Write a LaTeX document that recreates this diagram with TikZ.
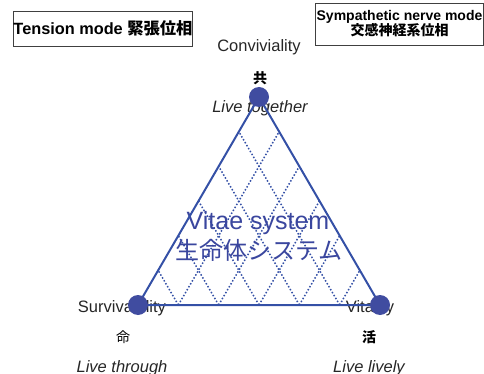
\documentclass[tikz,border=0pt]{standalone}
\usepackage{fontspec}
\setmainfont{Liberation Sans}
\newfontfamily\cjk{Noto Sans CJK JP}
\usepackage{tikz}
\usetikzlibrary{calc}
\definecolor{vblue}{RGB}{52,80,166}
\definecolor{vdot}{RGB}{64,76,160}
\definecolor{vtext}{RGB}{58,70,158}
\tikzstyle{corner}=[circle, fill=vdot, minimum size=20pt, inner sep=0pt]
\tikzstyle{rim}=[draw=vblue, line width=2pt]
\tikzstyle{lattice}=[draw=vblue, line width=1.5pt, dash pattern=on 1.5pt off 1.9pt]
\tikzstyle{lab}=[inner sep=0pt, text=black!85, font=\fontsize{16.5}{18}\selectfont]
\tikzstyle{kanji}=[inner sep=0pt, text=black, font=\fontsize{14}{16}\selectfont\cjk]
\tikzstyle{modebox}=[draw=black!75, line width=0.8pt, text=black, align=center]

\begin{document}
\begin{tikzpicture}[x=1pt,y=-1pt]
		\useasboundingbox (0,0) rectangle (484,374);
		\coordinate(A)at(259,97);
		\coordinate(L)at(138,305);
		\coordinate(R)at(380,305);
		\node[modebox, inner xsep=0pt, minimum height=35pt, font=\fontsize{16.3}{18}\selectfont\bfseries](T)at(103,28.5){Tension mode {\cjk 緊張位相}};
		\node[modebox, inner xsep=1pt, minimum width=167pt, minimum height=42pt, font=\fontsize{14}{16}\selectfont\bfseries](S)at(399.5,24){Sympathetic nerve mode\\[-1pt]{\cjk 交感神経系位相}};
		\node[lab, anchor=base](cv)at(259,52){Conviviality};
		\node[kanji, font=\fontsize{14}{16}\selectfont\cjk\bfseries](gong)at(260,78.5){共};
		\node[lab, anchor=base, font=\fontsize{16.5}{18}\selectfont\itshape](lt)at(260,113){Live together};
		\node[lab, anchor=base](sv)at(122,312){Survivability};
		\node[kanji](ming)at(123,337){命};
		\node[lab, anchor=base, font=\fontsize{16.5}{18}\selectfont\itshape](lth)at(122,372){Live through};
		\node[lab, anchor=base](vt)at(370,312){Vitality};
		\node[kanji, font=\fontsize{14}{16}\selectfont\cjk\bfseries](huo)at(369,337){活};
		\node[lab, anchor=base, font=\fontsize{16.5}{18}\selectfont\itshape](ll)at(369,372){Live lively};
		\foreach \k in {1,...,5}{
			\draw[lattice]($(L)!\k/6!(R)$)--($(A)!\k/6!(R)$);
			\draw[lattice]($(L)!\k/6!(R)$)--($(L)!\k/6!(A)$);
		}
		\node[inner sep=0pt, anchor=base, text=vtext, font=\fontsize{25}{28}\selectfont](vs)at(258,229){Vitae system};
		\node[inner sep=0pt, text=vtext, font=\fontsize{24}{28}\selectfont\cjk](sm)at(259,250){生命体システム};
		\draw[rim](A)--(L)--(R)--cycle;
		\node[corner](a)at(A){};
		\node[corner](l)at(L){};
		\node[corner](r)at(R){};
\end{tikzpicture}
\end{document}
